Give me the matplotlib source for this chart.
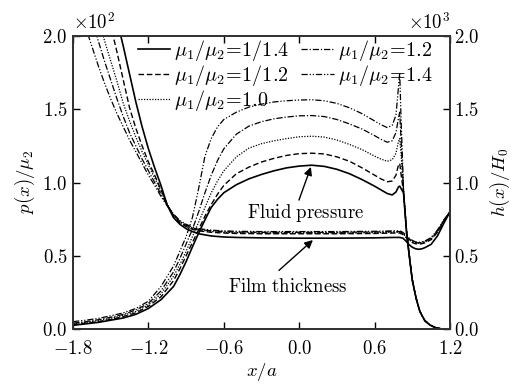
import matplotlib
matplotlib.use('Agg')
import matplotlib.pyplot as plt

plt.rcParams['mathtext.fontset'] = 'cm'
plt.rcParams['font.family'] = 'serif'
plt.rcParams['font.serif'] = ['DejaVu Serif']

# ---------------- data ----------------
ratio_labels = ['1/1.4', '1/1.2', '1.0', '1.2', '1.4']

x_ticks = [-1.8, -1.2, -0.6, 0.0, 0.6, 1.2]
y_ticks = [0.0, 0.5, 1.0, 1.5, 2.0]

# fluid pressure p(x)/mu2 (x 10^2)
x_p = [-1.8, -1.7, -1.6, -1.5, -1.4, -1.3, -1.2, -1.1, -1.0, -0.95, -0.9, -0.85,
       -0.8, -0.75, -0.7, -0.65, -0.6, -0.5, -0.4, -0.3, -0.2, -0.1, 0.0, 0.1,
       0.2, 0.3, 0.4, 0.5, 0.6, 0.65, 0.7, 0.74, 0.77, 0.79, 0.80, 0.81, 0.83,
       0.855, 0.88, 0.9, 0.93, 0.96, 1.0, 1.04, 1.08, 1.12]
p_1_14 = [0.025, 0.035, 0.045, 0.06, 0.075, 0.10, 0.14, 0.20, 0.29, 0.37, 0.46, 0.56,
          0.655, 0.745, 0.83, 0.885, 0.93, 0.985, 1.025, 1.055, 1.08, 1.10, 1.112, 1.118,
          1.11, 1.09, 1.06, 1.02, 0.975, 0.95, 0.925, 0.915, 0.935, 0.97, 0.975, 0.96, 0.93,
          0.65, 0.47, 0.33, 0.21, 0.12, 0.055, 0.027, 0.01, 0.003]
p_1_12 = [0.03, 0.04, 0.05, 0.065, 0.085, 0.11, 0.155, 0.22, 0.33, 0.41, 0.50, 0.59,
          0.68, 0.77, 0.85, 0.92, 0.98, 1.06, 1.105, 1.14, 1.165, 1.185, 1.197, 1.2,
          1.195, 1.175, 1.145, 1.10, 1.05, 1.025, 1.005, 1.01, 1.05, 1.12, 1.13, 1.06, 0.935,
          0.655, 0.47, 0.335, 0.21, 0.12, 0.057, 0.028, 0.011, 0.003]
p_1_10 = [0.035, 0.045, 0.057, 0.072, 0.093, 0.12, 0.165, 0.24, 0.36, 0.44, 0.53, 0.63,
          0.73, 0.83, 0.93, 1.01, 1.08, 1.175, 1.235, 1.265, 1.285, 1.30, 1.312, 1.316,
          1.31, 1.29, 1.26, 1.225, 1.18, 1.16, 1.145, 1.155, 1.2, 1.28, 1.3, 1.2, 0.94,
          0.66, 0.47, 0.335, 0.21, 0.12, 0.058, 0.028, 0.011, 0.003]
p_12 = [0.04, 0.05, 0.063, 0.08, 0.10, 0.13, 0.175, 0.26, 0.39, 0.48, 0.58, 0.68,
        0.8, 0.93, 1.05, 1.15, 1.23, 1.33, 1.385, 1.415, 1.435, 1.447, 1.455, 1.457,
        1.45, 1.43, 1.40, 1.365, 1.32, 1.295, 1.275, 1.285, 1.34, 1.44, 1.48, 1.3, 0.95,
        0.665, 0.475, 0.34, 0.21, 0.12, 0.058, 0.028, 0.011, 0.003]
p_14 = [0.05, 0.06, 0.072, 0.09, 0.11, 0.14, 0.19, 0.29, 0.43, 0.53, 0.63, 0.76,
        0.96, 1.18, 1.30, 1.38, 1.43, 1.48, 1.515, 1.535, 1.55, 1.558, 1.563, 1.565,
        1.558, 1.54, 1.51, 1.47, 1.42, 1.395, 1.375, 1.39, 1.46, 1.65, 1.75, 1.45, 0.96,
        0.67, 0.48, 0.34, 0.215, 0.12, 0.058, 0.028, 0.011, 0.003]

# film thickness h(x)/H0 (x 10^3)
x_h = [-1.75, -1.7, -1.65, -1.6, -1.55, -1.5, -1.45, -1.4, -1.35, -1.3, -1.25, -1.2,
       -1.15, -1.1, -1.05, -1.0, -0.95, -0.9, -0.85, -0.8, -0.7, -0.6, -0.5, -0.3,
       0.0, 0.3, 0.6, 0.75, 0.8, 0.825, 0.85, 0.875, 0.9, 0.925, 0.95, 0.975, 1.0,
       1.05, 1.1, 1.15, 1.2]
h_1_14 = [3.3, 3.1, 2.9, 2.7, 2.5, 2.3, 2.11, 1.93, 1.74, 1.55, 1.38, 1.23,
          1.10, 0.98, 0.845, 0.76, 0.715, 0.685, 0.665, 0.65, 0.635, 0.628, 0.625, 0.622,
          0.62, 0.62, 0.622, 0.625, 0.625, 0.62, 0.60, 0.575, 0.558, 0.548, 0.544, 0.547,
          0.555, 0.578, 0.635, 0.72, 0.80]
h_1_12 = [3.0, 2.8, 2.62, 2.44, 2.26, 2.07, 1.89, 1.70, 1.51, 1.37, 1.25, 1.14,
          1.05, 0.95, 0.85, 0.77, 0.725, 0.70, 0.68, 0.67, 0.66, 0.655, 0.652, 0.65,
          0.65, 0.65, 0.652, 0.655, 0.655, 0.645, 0.625, 0.605, 0.59, 0.582, 0.58, 0.582,
          0.588, 0.61, 0.66, 0.73, 0.80]
h_1_10 = [2.65, 2.47, 2.3, 2.13, 1.97, 1.83, 1.69, 1.54, 1.42, 1.31, 1.21, 1.12,
          1.03, 0.94, 0.85, 0.775, 0.73, 0.705, 0.685, 0.675, 0.665, 0.66, 0.658, 0.655,
          0.655, 0.655, 0.657, 0.66, 0.66, 0.65, 0.63, 0.61, 0.595, 0.587, 0.585, 0.587,
          0.593, 0.615, 0.665, 0.735, 0.80]
h_12 = [2.42, 2.27, 2.12, 1.97, 1.83, 1.7, 1.57, 1.45, 1.34, 1.25, 1.16, 1.08,
        1.0, 0.92, 0.845, 0.78, 0.735, 0.71, 0.69, 0.68, 0.67, 0.665, 0.662, 0.66,
        0.66, 0.66, 0.662, 0.665, 0.665, 0.655, 0.635, 0.615, 0.60, 0.59, 0.588, 0.59,
        0.597, 0.62, 0.67, 0.74, 0.80]
h_14 = [2.2, 2.06, 1.93, 1.8, 1.68, 1.57, 1.47, 1.38, 1.29, 1.21, 1.13, 1.05,
        0.98, 0.905, 0.84, 0.785, 0.74, 0.715, 0.695, 0.685, 0.675, 0.67, 0.667, 0.665,
        0.665, 0.665, 0.667, 0.67, 0.67, 0.66, 0.64, 0.62, 0.605, 0.595, 0.592, 0.594,
        0.60, 0.625, 0.675, 0.745, 0.80]

p_series = [p_1_14, p_1_12, p_1_10, p_12, p_14]
h_series = [h_1_14, h_1_12, h_1_10, h_12, h_14]

# ---------------- styles ----------------
styles = ['-', (0, (4, 2)), (0, (1, 1.2)), (0, (5, 1.5, 1, 1.5)),
          (0, (5, 1.5, 1, 1.5, 1, 1.5))]
widths = [1.2, 1.0, 0.9, 0.9, 0.9]

fig = plt.figure(figsize=(5.12, 3.86), dpi=100)
ax = fig.add_axes([0.1426, 0.1477, 0.7363, 0.7590])
ax2 = ax.twinx()

handles = []
for i in range(5):
    ln, = ax.plot(x_p, p_series[i], color='black', linestyle=styles[i], lw=widths[i],
                  label=r'$\mu_1/\mu_2\!=\!%s$' % ratio_labels[i])
    handles.append(ln)
    ax2.plot(x_h, h_series[i], color='black', linestyle=styles[i], lw=widths[i])

ax.set_xlim(-1.8, 1.2)
ax.set_ylim(0, 2.0)
ax2.set_ylim(0, 2.0)

fs = 13.5
ax.set_xticks(x_ticks)
ax.set_xticklabels(['$%.1f$' % v for v in x_ticks], fontsize=fs)
ax.set_yticks(y_ticks)
ax.set_yticklabels(['$%.1f$' % v for v in y_ticks], fontsize=fs)
ax2.set_yticks(y_ticks)
ax2.set_yticklabels(['$%.1f$' % v for v in y_ticks], fontsize=fs)

ax.tick_params(axis='both', direction='in', length=5, width=1.0, top=True)
ax.tick_params(axis='x', pad=8)
ax.tick_params(axis='y', pad=4)
ax2.tick_params(axis='y', direction='in', length=5, width=1.0, pad=3)
for a in (ax, ax2):
    for s in a.spines.values():
        s.set_color('#333333')
        s.set_linewidth(1.3)

ax.set_xlabel(r'$x/a$', fontsize=fs, labelpad=2)
ax.set_ylabel(r'$p(x)/\mu_2$', fontsize=fs, labelpad=4)
ax2.set_ylabel(r'$h(x)/H_0$', fontsize=fs, labelpad=6)

ax.text(0.0, 1.01, r'$\times10^2$', transform=ax.transAxes, fontsize=fs,
        ha='left', va='bottom')
ax.text(1.0, 1.01, r'$\times10^3$', transform=ax.transAxes, fontsize=fs,
        ha='right', va='bottom')

leg = ax.legend(handles=handles, ncol=2, frameon=False, loc='upper right',
                bbox_to_anchor=(0.975, 1.02), fontsize=14.5, handlelength=1.6,
                handletextpad=0.2, columnspacing=0.6, labelspacing=0.0,
                borderaxespad=0.0)

arrow = dict(arrowstyle='-|>', color='black', lw=1.0, mutation_scale=12,
             shrinkA=0, shrinkB=0)
ax.annotate('', xy=(0.093, 1.106), xytext=(-0.002, 0.88), arrowprops=arrow)
ax.text(0.053, 0.79, r'$\mathrm{Fluid\ pressure}$', fontsize=fs, ha='center',
        va='center')
ax.annotate('', xy=(0.109, 0.607), xytext=(-0.161, 0.40), arrowprops=arrow)
ax.text(-0.09, 0.287, r'$\mathrm{Film\ thickness}$', fontsize=fs, ha='center',
        va='center')

fig.savefig('out.png', dpi=100)
